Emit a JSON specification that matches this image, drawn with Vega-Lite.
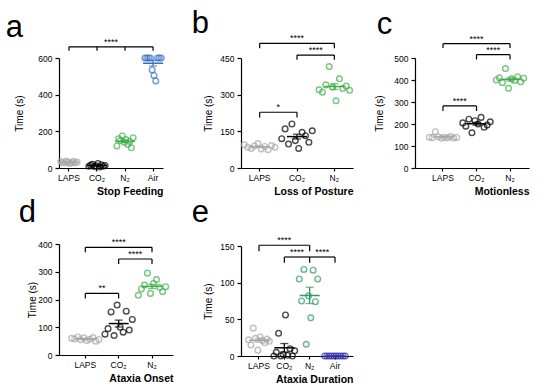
{
"$schema": "https://vega.github.io/schema/vega-lite/v6.json",
"padding": {"left": 5, "top": 8, "right": 5, "bottom": 5},
"config": {
 "font": "Liberation Sans",
 "view": {"stroke": null},
 "point": {"shape": "circle", "filled": false, "size": 32, "strokeWidth": 1.4},
 "axis": {"grid": false, "domainColor": "#000", "tickColor": "#000", "labelColor": "#000", "titleColor": "#000", "labelFont": "Liberation Sans", "titleFont": "Liberation Sans", "labelFontSize": 8.5, "titleFontSize": 10, "titleFontWeight": "normal", "domainWidth": 1.2, "tickWidth": 1.2, "tickSize": 4, "labelPadding": 3, "labelOverlap": false},
 "axisX": {"labelAngle": 0, "titleAnchor": "end", "titleAlign": "right", "titleFontWeight": "bold", "titleFontSize": 10.5, "titlePadding": 5, "tickSize": 3, "labelPadding": 2},
 "axisY": {"titlePadding": 6},
 "title": {"fontSize": 31, "fontWeight": "normal", "anchor": "start", "color": "#000", "font": "Liberation Sans"}
},
"datasets": {
 "a_pts": [
  {"g":"LAPS","r":1,"v":35},{"g":"LAPS","r":2,"v":30},{"g":"LAPS","r":3,"v":28},{"g":"LAPS","r":4,"v":38},{"g":"LAPS","r":5,"v":32},{"g":"LAPS","r":6,"v":25},{"g":"LAPS","r":7,"v":30},{"g":"LAPS","r":8,"v":36},{"g":"LAPS","r":9,"v":28},{"g":"LAPS","r":10,"v":33},
  {"g":"CO₂","r":1,"v":10},{"g":"CO₂","r":2,"v":15},{"g":"CO₂","r":3,"v":20},{"g":"CO₂","r":4,"v":8},{"g":"CO₂","r":5,"v":12},{"g":"CO₂","r":6,"v":25},{"g":"CO₂","r":7,"v":5},{"g":"CO₂","r":8,"v":18},{"g":"CO₂","r":9,"v":10},{"g":"CO₂","r":10,"v":14},
  {"g":"N₂","r":1,"v":120},{"g":"N₂","r":2,"v":160},{"g":"N₂","r":3,"v":150},{"g":"N₂","r":4,"v":175},{"g":"N₂","r":5,"v":140},{"g":"N₂","r":6,"v":155},{"g":"N₂","r":7,"v":130},{"g":"N₂","r":8,"v":145},{"g":"N₂","r":9,"v":110},{"g":"N₂","r":10,"v":165},
  {"g":"Air","r":1,"v":600},{"g":"Air","r":2,"v":600},{"g":"Air","r":3,"v":600},{"g":"Air","r":4,"v":600},{"g":"Air","r":5,"v":535},{"g":"Air","r":6,"v":505},{"g":"Air","r":7,"v":475},{"g":"Air","r":8,"v":600},{"g":"Air","r":9,"v":600},{"g":"Air","r":10,"v":600}
 ],
 "a_br": [{"from":"LAPS","to":"Air","y":661,"lab":"****","mid":"CO₂","at":"e"}],
 "a_tk": [{"c":"LAPS","y":661,"y0":639},{"c":"CO₂","y":661,"y0":639},{"c":"N₂","y":661,"y0":639},{"c":"Air","y":661,"y0":639}],
 "b_pts": [
  {"g":"LAPS","r":1,"v":95},{"g":"LAPS","r":2,"v":85},{"g":"LAPS","r":3,"v":80},{"g":"LAPS","r":4,"v":90},{"g":"LAPS","r":5,"v":100},{"g":"LAPS","r":6,"v":78},{"g":"LAPS","r":7,"v":88},{"g":"LAPS","r":8,"v":75},{"g":"LAPS","r":9,"v":92},{"g":"LAPS","r":10,"v":85},
  {"g":"CO₂","r":1,"v":120},{"g":"CO₂","r":2,"v":160},{"g":"CO₂","r":3,"v":98},{"g":"CO₂","r":4,"v":180},{"g":"CO₂","r":5,"v":112},{"g":"CO₂","r":6,"v":80},{"g":"CO₂","r":7,"v":146},{"g":"CO₂","r":8,"v":132},{"g":"CO₂","r":9,"v":105},{"g":"CO₂","r":10,"v":152},
  {"g":"N₂","r":1,"v":320},{"g":"N₂","r":2,"v":310},{"g":"N₂","r":3,"v":340},{"g":"N₂","r":4,"v":415},{"g":"N₂","r":5,"v":330},{"g":"N₂","r":6,"v":275},{"g":"N₂","r":7,"v":365},{"g":"N₂","r":8,"v":325},{"g":"N₂","r":9,"v":335},{"g":"N₂","r":10,"v":318}
 ],
 "b_br": [{"from":"LAPS","to":"N₂","y":510,"lab":"****","mid":"CO₂","at":"c"},{"from":"CO₂","to":"N₂","y":462,"lab":"****","mid":"CO₂","at":"e"},{"from":"LAPS","to":"CO₂","y":228,"lab":"*","mid":"LAPS","at":"e"}],
 "b_tk": [{"c":"LAPS","y":510,"y0":490},{"c":"N₂","y":510,"y0":490},{"c":"CO₂","y":462,"y0":443},{"c":"N₂","y":462,"y0":443},{"c":"LAPS","y":228,"y0":207},{"c":"CO₂","y":228,"y0":207}],
 "c_pts": [
  {"g":"LAPS","r":1,"v":140},{"g":"LAPS","r":2,"v":138},{"g":"LAPS","r":3,"v":165},{"g":"LAPS","r":4,"v":142},{"g":"LAPS","r":5,"v":135},{"g":"LAPS","r":6,"v":140},{"g":"LAPS","r":7,"v":137},{"g":"LAPS","r":8,"v":143},{"g":"LAPS","r":9,"v":136},{"g":"LAPS","r":10,"v":139},
  {"g":"CO₂","r":1,"v":205},{"g":"CO₂","r":2,"v":190},{"g":"CO₂","r":3,"v":222},{"g":"CO₂","r":4,"v":160},{"g":"CO₂","r":5,"v":215},{"g":"CO₂","r":6,"v":200},{"g":"CO₂","r":7,"v":230},{"g":"CO₂","r":8,"v":185},{"g":"CO₂","r":9,"v":195},{"g":"CO₂","r":10,"v":210},
  {"g":"N₂","r":1,"v":400},{"g":"N₂","r":2,"v":410},{"g":"N₂","r":3,"v":388},{"g":"N₂","r":4,"v":452},{"g":"N₂","r":5,"v":362},{"g":"N₂","r":6,"v":405},{"g":"N₂","r":7,"v":398},{"g":"N₂","r":8,"v":415},{"g":"N₂","r":9,"v":392},{"g":"N₂","r":10,"v":408}
 ],
 "c_br": [{"from":"LAPS","to":"N₂","y":565,"lab":"****","mid":"CO₂","at":"c"},{"from":"CO₂","to":"N₂","y":515,"lab":"****","mid":"CO₂","at":"e"},{"from":"LAPS","to":"CO₂","y":282,"lab":"****","mid":"LAPS","at":"e"}],
 "c_tk": [{"c":"LAPS","y":565,"y0":545},{"c":"N₂","y":565,"y0":545},{"c":"CO₂","y":515,"y0":493},{"c":"N₂","y":515,"y0":493},{"c":"LAPS","y":282,"y0":259},{"c":"CO₂","y":282,"y0":259}],
 "d_pts": [
  {"g":"LAPS","r":1,"v":60},{"g":"LAPS","r":2,"v":58},{"g":"LAPS","r":3,"v":65},{"g":"LAPS","r":4,"v":55},{"g":"LAPS","r":5,"v":62},{"g":"LAPS","r":6,"v":52},{"g":"LAPS","r":7,"v":57},{"g":"LAPS","r":8,"v":63},{"g":"LAPS","r":9,"v":50},{"g":"LAPS","r":10,"v":56},
  {"g":"CO₂","r":1,"v":75},{"g":"CO₂","r":2,"v":95},{"g":"CO₂","r":3,"v":155},{"g":"CO₂","r":4,"v":70},{"g":"CO₂","r":5,"v":180},{"g":"CO₂","r":6,"v":100},{"g":"CO₂","r":7,"v":82},{"g":"CO₂","r":8,"v":158},{"g":"CO₂","r":9,"v":90},{"g":"CO₂","r":10,"v":128},
  {"g":"N₂","r":1,"v":215},{"g":"N₂","r":2,"v":238},{"g":"N₂","r":3,"v":252},{"g":"N₂","r":4,"v":295},{"g":"N₂","r":5,"v":222},{"g":"N₂","r":6,"v":258},{"g":"N₂","r":7,"v":272},{"g":"N₂","r":8,"v":244},{"g":"N₂","r":9,"v":228},{"g":"N₂","r":10,"v":246}
 ],
 "d_br": [{"from":"LAPS","to":"N₂","y":388,"lab":"****","mid":"CO₂","at":"c"},{"from":"CO₂","to":"N₂","y":346,"lab":"****","mid":"CO₂","at":"e"},{"from":"LAPS","to":"CO₂","y":222,"lab":"**","mid":"LAPS","at":"e"}],
 "d_tk": [{"c":"LAPS","y":388,"y0":370},{"c":"N₂","y":388,"y0":370},{"c":"CO₂","y":346,"y0":328},{"c":"N₂","y":346,"y0":328},{"c":"LAPS","y":222,"y0":204},{"c":"CO₂","y":222,"y0":204}],
 "e_pts": [
  {"g":"LAPS","r":1,"v":22},{"g":"LAPS","r":2,"v":15},{"g":"LAPS","r":3,"v":38},{"g":"LAPS","r":4,"v":24},{"g":"LAPS","r":5,"v":8},{"g":"LAPS","r":6,"v":26},{"g":"LAPS","r":7,"v":21},{"g":"LAPS","r":8,"v":18},{"g":"LAPS","r":9,"v":23},{"g":"LAPS","r":10,"v":20},
  {"g":"CO₂","r":1,"v":0},{"g":"CO₂","r":2,"v":5},{"g":"CO₂","r":3,"v":31},{"g":"CO₂","r":4,"v":0},{"g":"CO₂","r":5,"v":2},{"g":"CO₂","r":6,"v":56},{"g":"CO₂","r":7,"v":1},{"g":"CO₂","r":8,"v":10},{"g":"CO₂","r":9,"v":0},{"g":"CO₂","r":10,"v":7},
  {"g":"N₂","r":1,"v":105},{"g":"N₂","r":2,"v":75},{"g":"N₂","r":3,"v":118},{"g":"N₂","r":4,"v":16},{"g":"N₂","r":5,"v":82},{"g":"N₂","r":6,"v":52},{"g":"N₂","r":7,"v":117},{"g":"N₂","r":8,"v":74},{"g":"N₂","r":9,"v":105},
  {"g":"Air","r":1,"v":0},{"g":"Air","r":2,"v":0},{"g":"Air","r":3,"v":0},{"g":"Air","r":4,"v":0},{"g":"Air","r":5,"v":0},{"g":"Air","r":6,"v":0},{"g":"Air","r":7,"v":0},{"g":"Air","r":8,"v":0},{"g":"Air","r":9,"v":0},{"g":"Air","r":10,"v":0}
 ],
 "e_br": [{"from":"LAPS","to":"N₂","y":151,"lab":"****","mid":"CO₂","at":"c"},{"from":"CO₂","to":"N₂","y":135,"lab":"****","mid":"CO₂","at":"e"},{"from":"N₂","to":"Air","y":135,"lab":"****","mid":"N₂","at":"e"}],
 "e_tk": [{"c":"LAPS","y":151,"y0":143},{"c":"N₂","y":151,"y0":143},{"c":"CO₂","y":135,"y0":127},{"c":"N₂","y":135,"y0":127},{"c":"Air","y":135,"y0":127}]
},
"spacing": 18,
"resolve": {"scale": {"x": "independent", "y": "independent", "color": "independent", "xOffset": "independent"}, "axis": {"x": "independent", "y": "independent"}},
"hconcat": [
 {"vconcat": [
  {"width": 104, "height": 110,
   "title": {"text": "a", "dx": -9, "offset": -6},
   "layer": [
    {"data": {"name": "a_pts"}, "mark": {"type": "point"},
     "encoding": {
      "x": {"field": "g", "type": "nominal", "title": "Stop Feeding", "scale": {"domain": ["LAPS","CO₂","N₂","Air"], "paddingInner": 0.29, "paddingOuter": 0}},
      "xOffset": {"field": "r", "type": "nominal", "scale": {"paddingOuter": 1.4}},
      "y": {"field": "v", "type": "quantitative", "title": "Time (s)", "scale": {"domain": [0, 600], "nice": false}, "axis": {"values": [0, 200, 400, 600], "titlePadding": 13}},
      "color": {"field": "g", "type": "nominal", "scale": {"domain": ["LAPS","CO₂","N₂","Air"], "range": ["#a6a6a6","#000000","#3fae49","#3a6fc6"]}, "legend": null}}},
    {"data": {"name": "a_pts"}, "mark": {"type": "tick", "size": 20, "thickness": 1.5},
     "encoding": {"x": {"field": "g", "type": "nominal", "title": "Stop Feeding"}, "y": {"aggregate": "mean", "field": "v", "type": "quantitative", "title": "Time (s)", "axis": {"values": [0, 200, 400, 600], "titlePadding": 13}}, "color": {"field": "g", "type": "nominal", "legend": null}}},
    {"data": {"name": "a_pts"}, "mark": {"type": "errorbar", "extent": "stderr", "ticks": true, "size": 8, "thickness": 1.3},
     "encoding": {"x": {"field": "g", "type": "nominal", "title": "Stop Feeding"}, "y": {"field": "v", "type": "quantitative", "title": "Time (s)", "axis": {"values": [0, 200, 400, 600], "titlePadding": 13}}, "color": {"field": "g", "type": "nominal", "legend": null}}},
    {"data": {"name": "a_br"}, "mark": {"type": "rule", "color": "#000", "strokeWidth": 1.2},
     "encoding": {"x": {"field": "from", "type": "nominal", "bandPosition": 0.5, "title": "Stop Feeding"}, "x2": {"field": "to", "bandPosition": 0.5}, "y": {"field": "y", "type": "quantitative", "title": "Time (s)", "axis": {"values": [0, 200, 400, 600], "titlePadding": 13}}}},
    {"data": {"name": "a_tk"}, "mark": {"type": "rule", "color": "#000", "strokeWidth": 1.2},
     "encoding": {"x": {"field": "c", "type": "nominal", "bandPosition": 0.5, "title": "Stop Feeding"}, "y": {"field": "y", "type": "quantitative", "title": "Time (s)", "axis": {"values": [0, 200, 400, 600], "titlePadding": 13}}, "y2": {"field": "y0"}}},
    {"data": {"name": "a_br"}, "mark": {"type": "text", "fontSize": 9, "dy": -2, "baseline": "alphabetic", "color": "#000"},
     "encoding": {"x": {"field": "mid", "type": "nominal", "bandPosition": 1.204, "title": "Stop Feeding"}, "y": {"field": "y", "type": "quantitative", "title": "Time (s)", "axis": {"values": [0, 200, 400, 600], "titlePadding": 13}}, "text": {"field": "lab"}}}
   ]},
  {"width": 114, "height": 111,
   "title": {"text": "d", "dx": -9, "offset": 9},
   "layer": [
    {"data": {"name": "d_pts"}, "mark": {"type": "point"},
     "encoding": {
      "x": {"field": "g", "type": "nominal", "title": "Ataxia Onset", "scale": {"domain": ["LAPS","CO₂","N₂"], "paddingInner": 0, "paddingOuter": 0.209, "align": 0.69}},
      "xOffset": {"field": "r", "type": "nominal", "scale": {"paddingOuter": 2.5}},
      "y": {"field": "v", "type": "quantitative", "title": "Time (s)", "scale": {"domain": [0, 400], "nice": false}, "axis": {"values": [0, 100, 200, 300, 400], "titlePadding": 0}},
      "color": {"field": "g", "type": "nominal", "scale": {"domain": ["LAPS","CO₂","N₂"], "range": ["#a6a6a6","#000000","#3fae49"]}, "legend": null}}},
    {"data": {"name": "d_pts"}, "mark": {"type": "tick", "size": 20, "thickness": 1.5},
     "encoding": {"x": {"field": "g", "type": "nominal", "title": "Ataxia Onset"}, "y": {"aggregate": "mean", "field": "v", "type": "quantitative", "title": "Time (s)", "axis": {"values": [0, 100, 200, 300, 400], "titlePadding": 0}}, "color": {"field": "g", "type": "nominal", "legend": null}}},
    {"data": {"name": "d_pts"}, "mark": {"type": "errorbar", "extent": "stderr", "ticks": true, "size": 8, "thickness": 1.3},
     "encoding": {"x": {"field": "g", "type": "nominal", "title": "Ataxia Onset"}, "y": {"field": "v", "type": "quantitative", "title": "Time (s)", "axis": {"values": [0, 100, 200, 300, 400], "titlePadding": 0}}, "color": {"field": "g", "type": "nominal", "legend": null}}},
    {"data": {"name": "d_br"}, "mark": {"type": "rule", "color": "#000", "strokeWidth": 1.2},
     "encoding": {"x": {"field": "from", "type": "nominal", "bandPosition": 0.5, "title": "Ataxia Onset"}, "x2": {"field": "to", "bandPosition": 0.5}, "y": {"field": "y", "type": "quantitative", "title": "Time (s)", "axis": {"values": [0, 100, 200, 300, 400], "titlePadding": 0}}}},
    {"data": {"name": "d_tk"}, "mark": {"type": "rule", "color": "#000", "strokeWidth": 1.2},
     "encoding": {"x": {"field": "c", "type": "nominal", "bandPosition": 0.5, "title": "Ataxia Onset"}, "y": {"field": "y", "type": "quantitative", "title": "Time (s)", "axis": {"values": [0, 100, 200, 300, 400], "titlePadding": 0}}, "y2": {"field": "y0"}}},
    {"data": {"name": "d_br"}, "transform": [{"filter": "datum.at === 'c'"}], "mark": {"type": "text", "fontSize": 9, "dy": -2, "baseline": "alphabetic", "color": "#000"},
     "encoding": {"x": {"field": "mid", "type": "nominal", "bandPosition": 0.5, "title": "Ataxia Onset"}, "y": {"field": "y", "type": "quantitative", "title": "Time (s)", "axis": {"values": [0, 100, 200, 300, 400], "titlePadding": 0}}, "text": {"field": "lab"}}},
    {"data": {"name": "d_br"}, "transform": [{"filter": "datum.at === 'e'"}], "mark": {"type": "text", "fontSize": 9, "dy": -2, "baseline": "alphabetic", "color": "#000"},
     "encoding": {"x": {"field": "mid", "type": "nominal", "bandPosition": 1, "title": "Ataxia Onset"}, "y": {"field": "y", "type": "quantitative", "title": "Time (s)", "axis": {"values": [0, 100, 200, 300, 400], "titlePadding": 0}}, "text": {"field": "lab"}}}
   ]}
 ], "spacing": 0,
 "resolve": {"scale": {"x": "independent", "y": "independent", "color": "independent", "xOffset": "independent"}, "axis": {"x": "independent", "y": "independent"}}},
 {"vconcat": [
  {"width": 112, "height": 110,
   "title": {"text": "b", "dx": -12, "offset": -6},
   "layer": [
    {"data": {"name": "b_pts"}, "mark": {"type": "point"},
     "encoding": {
      "x": {"field": "g", "type": "nominal", "title": "Loss of Posture", "scale": {"domain": ["LAPS","CO₂","N₂"], "paddingInner": 0, "paddingOuter": 0}},
      "xOffset": {"field": "r", "type": "nominal", "scale": {"paddingOuter": 3.4}},
      "y": {"field": "v", "type": "quantitative", "title": "Time (s)", "scale": {"domain": [0, 450], "nice": false}, "axis": {"values": [0, 150, 300, 450]}},
      "color": {"field": "g", "type": "nominal", "scale": {"domain": ["LAPS","CO₂","N₂"], "range": ["#a6a6a6","#000000","#3fae49"]}, "legend": null}}},
    {"data": {"name": "b_pts"}, "mark": {"type": "tick", "size": 20, "thickness": 1.5},
     "encoding": {"x": {"field": "g", "type": "nominal", "title": "Loss of Posture"}, "y": {"aggregate": "mean", "field": "v", "type": "quantitative", "title": "Time (s)", "axis": {"values": [0, 150, 300, 450]}}, "color": {"field": "g", "type": "nominal", "legend": null}}},
    {"data": {"name": "b_pts"}, "mark": {"type": "errorbar", "extent": "stderr", "ticks": true, "size": 8, "thickness": 1.3},
     "encoding": {"x": {"field": "g", "type": "nominal", "title": "Loss of Posture"}, "y": {"field": "v", "type": "quantitative", "title": "Time (s)", "axis": {"values": [0, 150, 300, 450]}}, "color": {"field": "g", "type": "nominal", "legend": null}}},
    {"data": {"name": "b_br"}, "mark": {"type": "rule", "color": "#000", "strokeWidth": 1.2},
     "encoding": {"x": {"field": "from", "type": "nominal", "bandPosition": 0.5, "title": "Loss of Posture"}, "x2": {"field": "to", "bandPosition": 0.5}, "y": {"field": "y", "type": "quantitative", "title": "Time (s)", "axis": {"values": [0, 150, 300, 450]}}}},
    {"data": {"name": "b_tk"}, "mark": {"type": "rule", "color": "#000", "strokeWidth": 1.2},
     "encoding": {"x": {"field": "c", "type": "nominal", "bandPosition": 0.5, "title": "Loss of Posture"}, "y": {"field": "y", "type": "quantitative", "title": "Time (s)", "axis": {"values": [0, 150, 300, 450]}}, "y2": {"field": "y0"}}},
    {"data": {"name": "b_br"}, "transform": [{"filter": "datum.at === 'c'"}], "mark": {"type": "text", "fontSize": 9, "dy": -2, "baseline": "alphabetic", "color": "#000"},
     "encoding": {"x": {"field": "mid", "type": "nominal", "bandPosition": 0.5, "title": "Loss of Posture"}, "y": {"field": "y", "type": "quantitative", "title": "Time (s)", "axis": {"values": [0, 150, 300, 450]}}, "text": {"field": "lab"}}},
    {"data": {"name": "b_br"}, "transform": [{"filter": "datum.at === 'e'"}], "mark": {"type": "text", "fontSize": 9, "dy": -2, "baseline": "alphabetic", "color": "#000"},
     "encoding": {"x": {"field": "mid", "type": "nominal", "bandPosition": 1, "title": "Loss of Posture"}, "y": {"field": "y", "type": "quantitative", "title": "Time (s)", "axis": {"values": [0, 150, 300, 450]}}, "text": {"field": "lab"}}}
   ]},
  {"width": 112, "height": 110,
   "title": {"text": "e", "dx": -12, "offset": 7},
   "layer": [
    {"data": {"name": "e_pts"}, "mark": {"type": "point"},
     "encoding": {
      "x": {"field": "g", "type": "nominal", "title": "Ataxia Duration", "scale": {"domain": ["LAPS","CO₂","N₂","Air"], "paddingInner": 0, "paddingOuter": 0.21}},
      "xOffset": {"field": "r", "type": "nominal", "scale": {"paddingOuter": 2.5}},
      "y": {"field": "v", "type": "quantitative", "title": "Time (s)", "scale": {"domain": [0, 150], "nice": false}, "axis": {"values": [0, 50, 100, 150]}},
      "color": {"field": "g", "type": "nominal", "scale": {"domain": ["LAPS","CO₂","N₂","Air"], "range": ["#a6a6a6","#000000","#2e9a5e","#3535a8"]}, "legend": null}}},
    {"data": {"name": "e_pts"}, "mark": {"type": "tick", "size": 20, "thickness": 1.5},
     "encoding": {"x": {"field": "g", "type": "nominal", "title": "Ataxia Duration"}, "y": {"aggregate": "mean", "field": "v", "type": "quantitative", "title": "Time (s)", "axis": {"values": [0, 50, 100, 150]}}, "color": {"field": "g", "type": "nominal", "legend": null}}},
    {"data": {"name": "e_pts"}, "mark": {"type": "errorbar", "extent": "stderr", "ticks": true, "size": 8, "thickness": 1.3},
     "encoding": {"x": {"field": "g", "type": "nominal", "title": "Ataxia Duration"}, "y": {"field": "v", "type": "quantitative", "title": "Time (s)", "axis": {"values": [0, 50, 100, 150]}}, "color": {"field": "g", "type": "nominal", "legend": null}}},
    {"data": {"name": "e_br"}, "mark": {"type": "rule", "color": "#000", "strokeWidth": 1.2},
     "encoding": {"x": {"field": "from", "type": "nominal", "bandPosition": 0.5, "title": "Ataxia Duration"}, "x2": {"field": "to", "bandPosition": 0.5}, "y": {"field": "y", "type": "quantitative", "title": "Time (s)", "axis": {"values": [0, 50, 100, 150]}}}},
    {"data": {"name": "e_tk"}, "mark": {"type": "rule", "color": "#000", "strokeWidth": 1.2},
     "encoding": {"x": {"field": "c", "type": "nominal", "bandPosition": 0.5, "title": "Ataxia Duration"}, "y": {"field": "y", "type": "quantitative", "title": "Time (s)", "axis": {"values": [0, 50, 100, 150]}}, "y2": {"field": "y0"}}},
    {"data": {"name": "e_br"}, "transform": [{"filter": "datum.at === 'c'"}], "mark": {"type": "text", "fontSize": 9, "dy": -2, "baseline": "alphabetic", "color": "#000"},
     "encoding": {"x": {"field": "mid", "type": "nominal", "bandPosition": 0.5, "title": "Ataxia Duration"}, "y": {"field": "y", "type": "quantitative", "title": "Time (s)", "axis": {"values": [0, 50, 100, 150]}}, "text": {"field": "lab"}}},
    {"data": {"name": "e_br"}, "transform": [{"filter": "datum.at === 'e'"}], "mark": {"type": "text", "fontSize": 9, "dy": -2, "baseline": "alphabetic", "color": "#000"},
     "encoding": {"x": {"field": "mid", "type": "nominal", "bandPosition": 1, "title": "Ataxia Duration"}, "y": {"field": "y", "type": "quantitative", "title": "Time (s)", "axis": {"values": [0, 50, 100, 150]}}, "text": {"field": "lab"}}}
   ]}
 ], "spacing": 0,
 "resolve": {"scale": {"x": "independent", "y": "independent", "color": "independent", "xOffset": "independent"}, "axis": {"x": "independent", "y": "independent"}}},
 {"width": 114, "height": 110,
  "title": {"text": "c", "dx": 2, "offset": -6},
  "layer": [
   {"data": {"name": "c_pts"}, "mark": {"type": "point"},
    "encoding": {
     "x": {"field": "g", "type": "nominal", "title": "Motionless", "scale": {"domain": ["LAPS","CO₂","N₂"], "paddingInner": 0, "paddingOuter": 0.2, "align": 0.836}},
     "xOffset": {"field": "r", "type": "nominal", "scale": {"paddingOuter": 2.5}},
     "y": {"field": "v", "type": "quantitative", "title": "Time (s)", "scale": {"domain": [0, 500], "nice": false}, "axis": {"values": [0, 100, 200, 300, 400, 500], "titlePadding": 9}},
     "color": {"field": "g", "type": "nominal", "scale": {"domain": ["LAPS","CO₂","N₂"], "range": ["#a6a6a6","#000000","#3fae49"]}, "legend": null}}},
   {"data": {"name": "c_pts"}, "mark": {"type": "tick", "size": 20, "thickness": 1.5},
    "encoding": {"x": {"field": "g", "type": "nominal", "title": "Motionless"}, "y": {"aggregate": "mean", "field": "v", "type": "quantitative", "title": "Time (s)", "axis": {"values": [0, 100, 200, 300, 400, 500], "titlePadding": 9}}, "color": {"field": "g", "type": "nominal", "legend": null}}},
   {"data": {"name": "c_pts"}, "mark": {"type": "errorbar", "extent": "stderr", "ticks": true, "size": 8, "thickness": 1.3},
    "encoding": {"x": {"field": "g", "type": "nominal", "title": "Motionless"}, "y": {"field": "v", "type": "quantitative", "title": "Time (s)", "axis": {"values": [0, 100, 200, 300, 400, 500], "titlePadding": 9}}, "color": {"field": "g", "type": "nominal", "legend": null}}},
   {"data": {"name": "c_br"}, "mark": {"type": "rule", "color": "#000", "strokeWidth": 1.2},
    "encoding": {"x": {"field": "from", "type": "nominal", "bandPosition": 0.5, "title": "Motionless"}, "x2": {"field": "to", "bandPosition": 0.5}, "y": {"field": "y", "type": "quantitative", "title": "Time (s)", "axis": {"values": [0, 100, 200, 300, 400, 500], "titlePadding": 9}}}},
   {"data": {"name": "c_tk"}, "mark": {"type": "rule", "color": "#000", "strokeWidth": 1.2},
    "encoding": {"x": {"field": "c", "type": "nominal", "bandPosition": 0.5, "title": "Motionless"}, "y": {"field": "y", "type": "quantitative", "title": "Time (s)", "axis": {"values": [0, 100, 200, 300, 400, 500], "titlePadding": 9}}, "y2": {"field": "y0"}}},
   {"data": {"name": "c_br"}, "transform": [{"filter": "datum.at === 'c'"}], "mark": {"type": "text", "fontSize": 9, "dy": -2, "baseline": "alphabetic", "color": "#000"},
    "encoding": {"x": {"field": "mid", "type": "nominal", "bandPosition": 0.5, "title": "Motionless"}, "y": {"field": "y", "type": "quantitative", "title": "Time (s)", "axis": {"values": [0, 100, 200, 300, 400, 500], "titlePadding": 9}}, "text": {"field": "lab"}}},
   {"data": {"name": "c_br"}, "transform": [{"filter": "datum.at === 'e'"}], "mark": {"type": "text", "fontSize": 9, "dy": -2, "baseline": "alphabetic", "color": "#000"},
    "encoding": {"x": {"field": "mid", "type": "nominal", "bandPosition": 1, "title": "Motionless"}, "y": {"field": "y", "type": "quantitative", "title": "Time (s)", "axis": {"values": [0, 100, 200, 300, 400, 500], "titlePadding": 9}}, "text": {"field": "lab"}}}
  ]}
]
}
